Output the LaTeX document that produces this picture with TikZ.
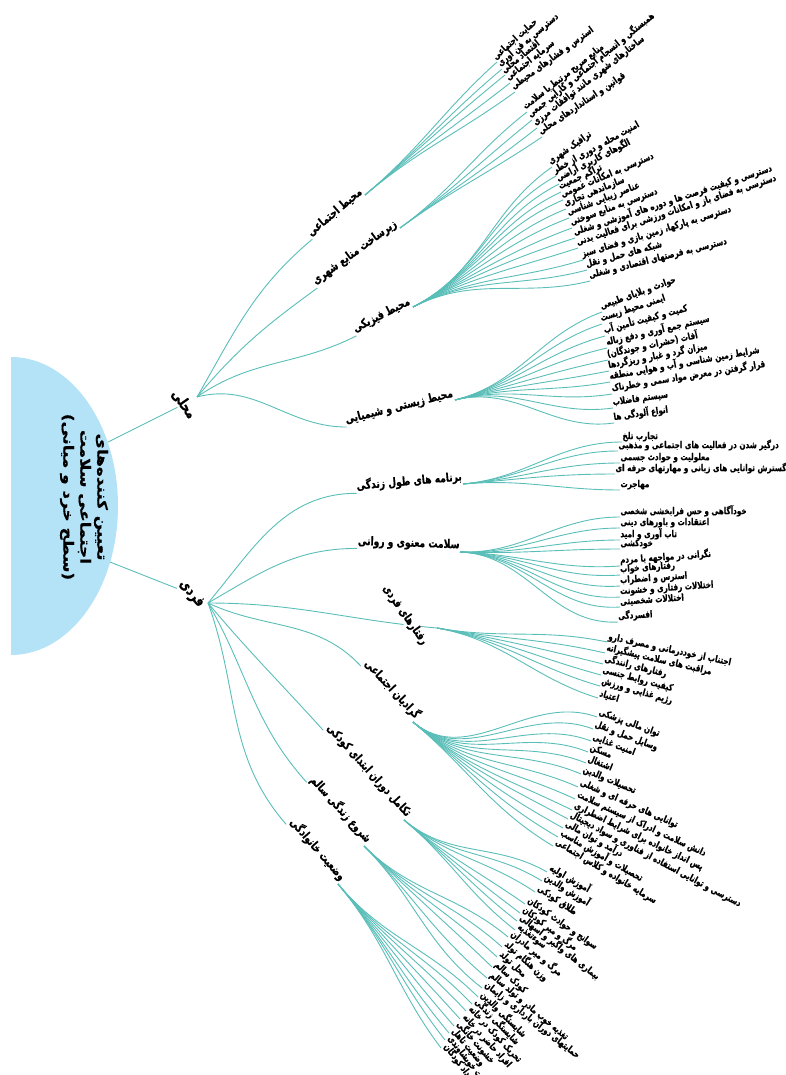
\documentclass[tikz,border=0pt]{standalone}
\usepackage{fontspec}
\newfontfamily\fa[Script=Arabic, FakeStretch=0.76, BoldFeatures={FakeBold=0.5}]{DejaVu Sans}
\newfontfamily\faroot[Script=Arabic, FakeStretch=1.2, BoldFeatures={FakeBold=0.5}]{DejaVu Sans}
\TeXXeTstate=1
\usetikzlibrary{calc}
\definecolor{lnkcol}{RGB}{90,190,184}
\definecolor{rootcol}{RGB}{180,226,247}
\newcommand\RL[1]{\beginR #1\endR}
\tikzset{
  lnk/.style={draw=lnkcol, line width=0.9pt},
  leaf/.style={font=\fa\bfseries\fontsize{9.5}{10}\selectfont, inner sep=0.3pt, anchor=south west},
  midlbl/.style={font=\fa\bfseries\fontsize{12}{13}\selectfont, inner sep=0.5pt, anchor=south east},
  toplbl/.style={font=\fa\bfseries\fontsize{15}{16}\selectfont, inner sep=0.5pt},
  roottxt/.style={font=\faroot\bfseries\fontsize{14}{17}\selectfont, align=center, inner sep=0pt},
}
\begin{document}
\begin{tikzpicture}[x=1pt,y=1pt]
\useasboundingbox (0,0) rectangle (786,-1075);
% root
\begin{scope}
  \clip (11,-300) rectangle (200,-720);
  \fill[rootcol] (11,-506) ellipse [x radius=107pt, y radius=149pt];
\end{scope}
\node[roottxt, rotate=-90] (root) at (84,-497) {\RL{تعیین کننده‌های}\\ \RL{اجتماعی سلامت}\\ \RL{(سطح خرد و میانی)}};
\coordinate (rA) at (108,-442);
\coordinate (rB) at (110,-562);
\coordinate (O1) at (197,-397);
\coordinate (O2) at (208,-603);
\node[toplbl, rotate=-55] (mahali) at (184,-404) {\RL{محلی}};
\node[toplbl, rotate=-50] (fardi) at (191,-594) {\RL{فردی}};
\draw[lnk] (rA) -- (mahali);
\draw[lnk] (rB) -- (fardi);
% level 2 labels
\node[midlbl, rotate=40] (A1) at (365,-195) {\RL{محیط اجتماعی}};
\node[midlbl, rotate=36] (A2) at (400,-228) {\RL{زیرساخت منابع شهری}};
\node[midlbl, rotate=27] (A3) at (413,-307) {\RL{محیط فیزیکی}};
\node[midlbl, rotate=14] (A4) at (455,-400) {\RL{محیط زیستی و شیمیایی}};
\node[midlbl, rotate=5] (B1) at (463,-484) {\RL{برنامه های طول زندگی}};
\node[midlbl, rotate=-2] (B2) at (460,-552) {\RL{سلامت معنوی و روانی}};
\coordinate (B3) at (437,-628);
\node[midlbl, rotate=-47] (B4) at (413,-722) {\RL{گرادیان اجتماعی}};
\node[midlbl, rotate=-48] (B5) at (404,-820) {\RL{تکامل دوران ابتدای کودکی}};
\node[midlbl, rotate=-48] (B6) at (364,-846) {\RL{شروع زندگی سالم}};
\node[midlbl, rotate=-49] (B7) at (338,-884) {\RL{وضعیت خانوادگی}};
\draw[lnk] (O1) to[out=60, in=220] (A1.south west);
\draw[lnk] (O1) to[out=50, in=216] (A2.south west);
\draw[lnk] (O1) to[out=35, in=207] (A3.south west);
\draw[lnk] (O1) to[out=15, in=180] (A4.south west);
\draw[lnk] (O2) to[out=50, in=180] (B1.south west);
\draw[lnk] (O2) to[out=30, in=180] (B2.south west);
\draw[lnk] (O2) to[out=0, in=175] (B3);
\draw[lnk] (O2) to[out=-25, in=133] (B4.south west);
\draw[lnk] (O2) to[out=-50, in=132] (B5.south west);
\draw[lnk] (O2) to[out=-60, in=132] (B6.south west);
\draw[lnk] (O2) to[out=-70, in=131] (B7.south west);
\node[midlbl, anchor=center, rotate=-55, fill=white] (B3l) at (405,-615) {\RL{رفتارهای فردی}};
% leaves
\newcommand\fan[4]{% group name, origin, out angle, list
  \foreach \i/\x/\y/\a/\t in {#4}{
    \pgfmathsetmacro\b{\a+180}
    \node[leaf, rotate=\a] (#1-\i) at (\x,-\y) {\RL{\t}};
    \draw[lnk] (#2) to[out=#3, in=\b] (#1-\i.south west);
  }}
\fan{a1}{A1.south east}{40}{
 1/497/62/42/{حمایت اجتماعی},
 2/502/69/40/{دسترسی به فن آوری},
 3/505/75/39/{اقتصاد محلی},
 4/510/83/38/{سرمایه اجتماعی},
 5/515/92/36/{استرس و فشارهای محیطی}}
\fan{a2}{A2.south east}{36}{
 1/527/112/38/{منابع صریح مرتبط با سلامت},
 2/532/120/39/{همبستگی و انسجام اجتماعی و کارآیی جمعی},
 3/537/128/38/{ساختارهای شهری مانند توافقات مرزی},
 4/542/137/34/{قوانین و استانداردهای محلی}}
\fan{a3}{A3.south east}{27}{
 1/552/167/35/{ترافیک شهری},
 2/556/176/29/{امنیت محله و دوری از خطر},
 3/559/184/27/{الگوهای کاربری اراضی},
 4/561/192/25/{تراکم جمعیت},
 5/563/200/23/{دسترسی به امکانات عمومی},
 6/566/209/22/{سازماندهی تجاری},
 7/569/218/21/{عناصر زیبایی شناسی},
 8/572/228/20/{دسترسی به منابع سوختی},
 9/575/238/18/{دسترسی و کیفیت فرصت ها و دوره های آموزشی و شغلی},
 10/578/248/18/{دسترسی به فضای باز و امکانات ورزشی برای فعالیت بدنی},
 11/583/260/17/{دسترسی به پارکها، زمین بازی و فضای سبز},
 12/587/270/15/{شبکه های حمل و نقل},
 13/590/281/14/{دسترسی به فرصتهای اقتصادی و شغلی}}
\fan{a4}{A4.south east}{14}{
 1/602/312/20/{حوادث و بلایای طبیعی},
 2/602/324/18/{ایمنی محیط زیست},
 3/605/336/15/{کمیت و کیفیت تأمین آب},
 4/607/348/13/{سیستم جمع آوری و دفع زباله},
 5/608/360/12/{آفات (حشرات و جوندگان)},
 6/609/371/11/{میزان گرد و غبار و ریزگردها},
 7/610/382/10/{شرایط زمین شناسی و آب و هوایی منطقه},
 8/612/394/9/{قرار گرفتن در معرض مواد سمی و خطرناک},
 9/613/408/8/{سیستم فاضلاب},
 10/614/423/8/{انواع آلودگی ها}}
\fan{b1}{B1.south east}{5}{
 1/622/442/0/{تجارب تلخ},
 2/618/451/0/{درگیر شدن در فعالیت های اجتماعی و مذهبی},
 3/620/463/0/{معلولیت و حوادث جسمی},
 4/615/474/0/{گسترش توانایی های زبانی و مهارتهای حرفه ای},
 5/620/490/0/{مهاجرت}}
\fan{b2}{B2.south east}{-2}{
 1/620/517/0/{خودآگاهی و حس فرابخشی شخصی},
 2/620/528/0/{اعتقادات و باورهای دینی},
 3/620/540/0/{تاب آوری و امید},
 4/620/549/0/{خودکشی},
 5/620/566/4/{نگرانی در مواجهه با مردم},
 6/620/575/4/{رفتارهای خواب},
 7/620/586/4/{استرس و اضطراب},
 8/620/597/4/{اختلالات رفتاری و خشونت},
 9/620/607/4/{اختلالات شخصیتی},
 10/618/622/3/{افسردگی}}
\fan{b3}{B3}{-10}{
 1/607/642/-12/{اجتناب از خوددرمانی و مصرف دارو},
 2/605/653/-13/{مراقبت های سلامت پیشگیرانه},
 3/603/664/-14/{رفتارهای رانندگی},
 4/601/675/-15/{کیفیت روابط جنسی},
 5/600/686/-16/{رژیم غذایی و ورزش},
 6/598/698/-17/{اعتیاد}}
\fan{b4}{B4.south east}{-40}{
 1/597/717/-20/{توان مالی پزشکی},
 2/593/729/-21/{وسایل حمل و نقل},
 3/591/741/-21/{امنیت غذایی},
 4/588/752/-22/{مسکن},
 5/586/763/-22/{اشتغال},
 6/581/774/-23/{تحصیلات والدین},
 7/578/787/-24/{توانایی های حرفه ای و شغلی},
 8/575/799/-25/{دانش سلامت و ادراک از سیستم سلامت},
 9/572/810/-26/{پس انداز خانواده برای شرایط اضطراری},
 10/568/819/-28/{دسترسی و توانایی استفاده از فناوری و سواد دیجیتال},
 11/563/828/-29/{درآمد و توان مالی},
 12/558/837/-30/{تحصیلات و آموزش مناسب},
 13/553/846/-31/{سرمایه خانواده و کلاس اجتماعی}}
\fan{b5}{B5.south east}{-40}{
 1/547/872/-30/{آموزش اولیه},
 2/542/881/-32/{آموزش والدین},
 3/535/892/-34/{طلاق کودکی},
 4/525/904/-35/{سوانح و حوادث کودکان},
 5/520/913/-37/{مرگ و میر کودکان},
 6/517/921/-38/{بیماری های واگیر و اسهالی},
 7/515/930/-38/{سوءتغذیه}}
\fan{b6}{B6.south east}{-45}{
 1/508/937/-40/{مرگ و میر مادران},
 2/502/947/-42/{وزن هنگام تولد},
 3/497/957/-43/{محل تولد},
 4/492/967/-44/{کودک سالم},
 5/487/978/-40/{تغذیه خوب مادر و تولد سالم},
 6/482/988/-38/{حمایتهای دوران بارداری و زایمان}}
\fan{b7}{B7.south east}{-50}{
 1/478/997/-45/{شایستگی والدین},
 2/472/1004/-46/{شایستگی زندگی},
 3/466/1011/-47/{تحریک کودک در خانه},
 4/460/1019/-48/{افراد حاضر در خانه},
 5/454/1026/-49/{خشونت خانگی},
 6/449/1033/-50/{وضعیت تاهل},
 7/445/1040/-52/{نسبت خویشاوندی},
 8/441/1048/-53/{تعداد کودکان}}
\end{tikzpicture}
\end{document}
